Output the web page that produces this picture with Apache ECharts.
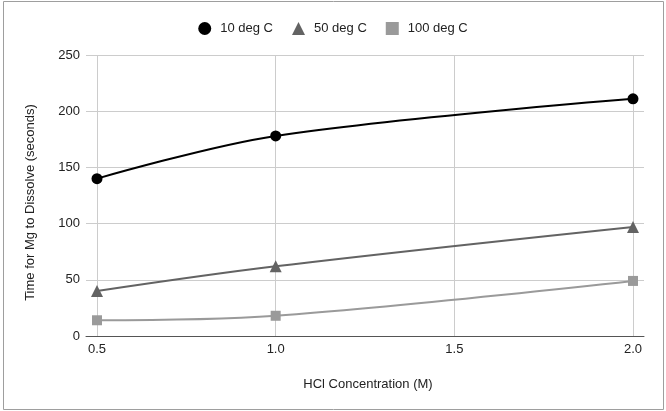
<!DOCTYPE html>
<html lang="en">
<head>
    <meta charset="UTF-8">
    <title>HCl concentration vs dissolve time</title>
    <script src="https://cdn.jsdelivr.net/npm/echarts@6/dist/echarts.min.js"></script>
    <style>
        body { margin: 0; background: #fff; }
    </style>
</head>
<body>
<div id="box" style="width: 666px;height: 411px;"></div>
<script>
    // concentrations (M) and times (s)
    var concentration = [0.5, 1.0, 2.0];
    var xTicks = [0.5, 1.0, 1.5, 2.0];
    var yTicks = [0, 50, 100, 150, 200, 250];
    var seriesNames = ['10 deg C', '50 deg C', '100 deg C'];
    var time10 = [140, 178, 211];
    var time50 = [40, 62, 97];
    var time100 = [14, 18, 49];

    function pairs(vals) {
        return concentration.map(function (c, i) { return [c, vals[i]]; });
    }

    var myChart = echarts.init(document.getElementById('box'));
    var font = 'Liberation Sans, Arial, sans-serif';
    var pad = 0.0308;

    var option = {
        animation: false,
        textStyle: { fontFamily: font },
        graphic: [{
            type: 'rect',
            shape: { x: 3.5, y: 1.5, width: 660, height: 408 },
            style: { fill: 'none', stroke: '#9e9e9e', lineWidth: 1 },
            silent: true
        }],
        legend: {
            top: 17,
            left: 'center',
            itemGap: 19,
            itemWidth: 13,
            itemHeight: 13,
            textStyle: { fontFamily: font, fontSize: 13, color: '#222', padding: [0, 0, 0, 4] },
            data: [
                { name: seriesNames[0], icon: 'circle' },
                { name: seriesNames[1], icon: 'triangle' },
                { name: seriesNames[2], icon: 'rect' }
            ]
        },
        grid: { left: 86, right: 22, top: 55, bottom: 75 },
        xAxis: {
            type: 'value',
            min: xTicks[0] - pad,
            max: xTicks[xTicks.length - 1] + pad,
            name: 'HCl Concentration (M)',
            nameLocation: 'middle',
            nameGap: 42,
            nameTextStyle: { fontFamily: font, fontSize: 13, color: '#222', padding: [0, 0, 0, 6] },
            axisLine: { lineStyle: { color: '#555', width: 1 } },
            axisTick: { show: false, customValues: xTicks },
            axisLabel: {
                customValues: xTicks,
                margin: 7,
                fontSize: 13,
                color: '#222',
                formatter: function (v) { return v.toFixed(1); }
            },
            splitLine: { show: true, lineStyle: { color: '#ccc' } }
        },
        yAxis: {
            type: 'value',
            min: yTicks[0],
            max: yTicks[yTicks.length - 1],
            interval: 50,
            name: 'Time for Mg to Dissolve (seconds)',
            nameLocation: 'middle',
            nameGap: 49,
            nameTextStyle: { fontFamily: font, fontSize: 13, color: '#222', padding: [0, 14, 0, 0] },
            axisLine: { show: false },
            axisTick: { show: false },
            axisLabel: { margin: 6, fontSize: 13, color: '#222' },
            splitLine: { show: true, lineStyle: { color: '#ccc' } }
        },
        series: [
            {
                name: seriesNames[0],
                type: 'line',
                smooth: 0.35,
                data: pairs(time10),
                symbol: 'circle',
                symbolSize: 11,
                itemStyle: { color: '#000' },
                lineStyle: { color: '#000', width: 2 }
            },
            {
                name: seriesNames[1],
                type: 'line',
                smooth: 0.35,
                data: pairs(time50),
                symbol: 'triangle',
                symbolSize: 12,
                itemStyle: { color: '#636363' },
                lineStyle: { color: '#636363', width: 2 }
            },
            {
                name: seriesNames[2],
                type: 'line',
                smooth: 0.35,
                data: pairs(time100),
                symbol: 'rect',
                symbolSize: 10,
                itemStyle: { color: '#9a9a9a' },
                lineStyle: { color: '#9a9a9a', width: 2 }
            }
        ]
    };
    myChart.setOption(option);
</script>
</body>
</html>
